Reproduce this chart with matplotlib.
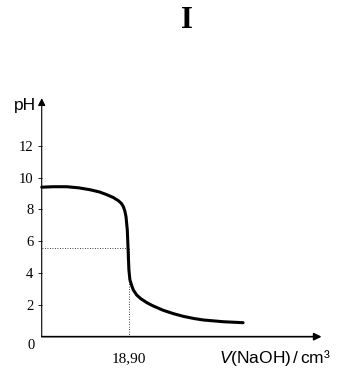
import matplotlib.pyplot as plt

plt.rcParams['mathtext.fontset'] = 'custom'
plt.rcParams['mathtext.rm'] = 'Liberation Sans'
plt.rcParams['mathtext.it'] = 'Liberation Sans:italic'

# titration curve
volume = [0.0, 2.5, 5.4, 8.0, 10.45, 12.5, 14.07, 15.5, 16.6, 17.25, 17.67, 18.0,
          18.25, 18.53, 18.68, 18.78, 18.88, 19.1, 19.5, 19.83, 20.56, 21.5,
          22.7, 24.0, 26.3, 28.5, 30.65, 33.0, 35.0, 39.3, 43.6]
ph = [9.4, 9.43, 9.43, 9.36, 9.24, 9.1, 8.93, 8.75, 8.55, 8.38, 8.18, 7.9,
      7.55, 6.71, 5.66, 4.9, 4.2, 3.57, 3.2, 2.94, 2.62, 2.38,
      2.15, 1.95, 1.66, 1.45, 1.28, 1.14, 1.05, 0.94, 0.88]
y_ticks = [2, 4, 6, 8, 10, 12]
v_eq = 18.90
ph_eq = 5.6

serif = 'Liberation Serif'
sans = 'Liberation Sans'

fig = plt.figure(figsize=(3.43, 3.71), dpi=100)
ax = fig.add_axes([0.1216, 0.0925, 0.816, 0.643])
ax.set_xlim(0, 60.6)
ax.set_ylim(0, 15)
for s in ax.spines.values():
    s.set_visible(False)
ax.set_xticks([])
ax.set_yticks(y_ticks)
ax.set_yticklabels([str(t) for t in y_ticks], fontfamily=serif, fontsize=10.5)
ax.tick_params(axis='y', length=3, width=0.6, pad=3)

# axes with arrowheads
arrow = dict(arrowstyle='-|>', lw=1.2, color='black', mutation_scale=11,
             shrinkA=0, shrinkB=0)
ax.annotate('', xy=(60.6, 0), xytext=(0, 0), arrowprops=arrow,
            annotation_clip=False)
ax.annotate('', xy=(0, 15), xytext=(0, 0), arrowprops=dict(arrow, lw=0.8),
            annotation_clip=False)

ax.plot(volume, ph, color='black', lw=2.2, solid_capstyle='round',
        solid_joinstyle='round', clip_on=False)

# dotted guides
ax.plot([0, v_eq], [ph_eq, ph_eq], color='black', lw=0.6, ls=(0, (1, 2)))
ax.plot([v_eq, v_eq], [0, ph_eq], color='black', lw=0.6, ls=(0, (1, 2)))

ax.text(-1.6, -0.55, '0', fontfamily=serif, fontsize=10.5, ha='right', va='center')
ax.text(v_eq, -1.4, '18,90', fontfamily=serif, fontsize=11, ha='center', va='center')
ax.text(62.6, -1.35, '$V$(NaOH)$\\,$/$\\,$cm³', fontfamily=sans, fontsize=12.5,
        ha='right', va='center', clip_on=False)
ax.text(-1.3, 14.55, 'pH', fontfamily=sans, fontsize=12.5, ha='right', va='center')

fig.text(0.544, 0.945, 'I', fontfamily=serif, fontsize=22, fontweight='bold',
         ha='center', va='center')

fig.savefig('out.png', dpi=100)
